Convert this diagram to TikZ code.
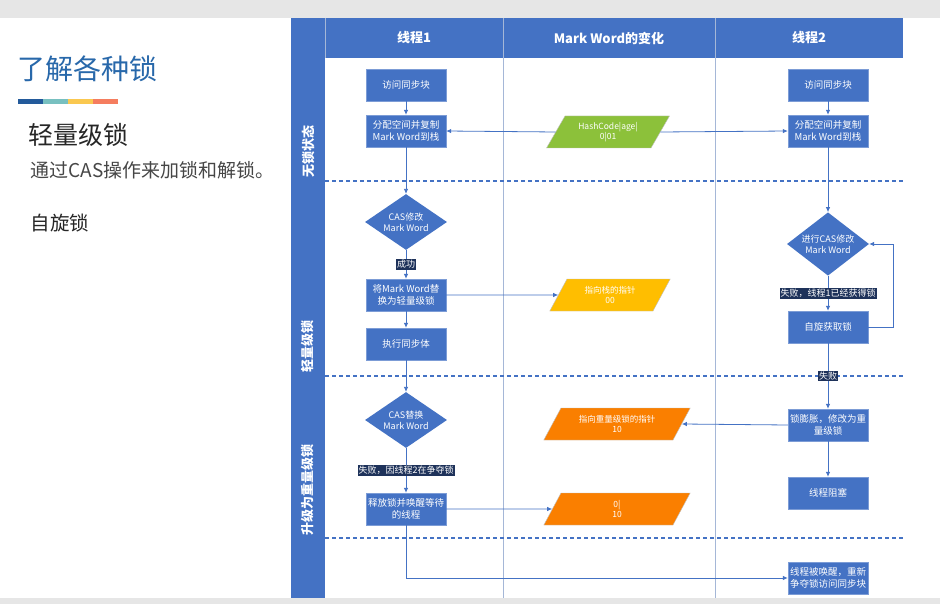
\documentclass[tikz,border=0pt]{standalone}
\usepackage{fontspec}
\setmainfont{Noto Sans CJK SC}
\usetikzlibrary{arrows.meta,positioning,shapes.geometric}
\definecolor{lockBlue}{RGB}{68,114,196}
\definecolor{lockNavy}{RGB}{30,50,90}
\definecolor{lockGrid}{RGB}{165,183,215}
\definecolor{lockGreen}{RGB}{140,193,58}
\definecolor{lockYellow}{RGB}{255,190,0}
\definecolor{lockOrange}{RGB}{250,127,0}
\definecolor{lockTitle}{RGB}{40,104,170}
\definecolor{lockText}{RGB}{70,70,70}
\definecolor{barBlue}{RGB}{35,90,155}
\definecolor{barTeal}{RGB}{120,192,192}
\definecolor{barGold}{RGB}{250,200,80}
\definecolor{barRed}{RGB}{245,125,95}
\definecolor{frameGray}{RGB}{230,230,230}

\begin{document}
\begin{tikzpicture}[x=1pt,y=-1pt,
  stepbox/.style={rectangle, fill=lockBlue, draw=lockBlue!70!white, text=white,
    minimum width=80pt, minimum height=32pt, inner sep=1pt, align=center,
    font=\fontsize{9.5}{11.5}\selectfont},
  choice/.style={diamond, fill=lockBlue, text=white, minimum width=82pt,
    minimum height=50pt, inner sep=-2pt, align=center,
    font=\fontsize{9}{11}\selectfont},
  word/.style={trapezium, trapezium left angle=60, trapezium right angle=120,
    trapezium stretches=true, text width=84pt, minimum height=32pt,
    draw=black!25, text=white, align=center, inner xsep=1pt, inner ysep=6pt,
    font=\fontsize{8.5}{10.5}\selectfont},
  wideword/.style={word, text width=110pt},
  tag/.style={fill=lockNavy, text=white, inner sep=1pt,
    font=\fontsize{9}{10}\selectfont},
  head/.style={text=white, font=\bfseries\fontsize{13}{15}\selectfont},
  lane/.style={text=white, rotate=90, font=\bfseries\fontsize{13}{15}\selectfont},
  flow/.style={-{Latex[length=5pt,width=4.5pt]}, lockBlue, line width=0.8pt},
  divider/.style={lockBlue, line width=1.5pt, dash pattern=on 4pt off 3pt}]
\useasboundingbox (0,0) rectangle (940,604);
\fill[white] (0,0) rectangle (940,604);
\fill[frameGray] (0,0) rectangle (940,18);
\fill[frameGray] (0,598) rectangle (940,604);

% left side of the slide
\node[anchor=west, text=lockTitle, font=\fontsize{28}{32}\selectfont] (title) at (14,69) {了解各种锁};
\fill[barBlue] (18,99) rectangle (43,104);
\fill[barTeal] (43,99) rectangle (68,104);
\fill[barGold] (68,99) rectangle (93,104);
\fill[barRed] (93,99) rectangle (118,104);
\node[anchor=west, text=black!85, font=\fontsize{25}{28}\selectfont] (light) at (25,135) {轻量级锁};
\node[anchor=west, text=lockText, font=\fontsize{19}{21}\selectfont] (cas) at (27,170) {通过CAS操作来加锁和解锁。};
\node[anchor=west, text=black!85, font=\fontsize{19.5}{22}\selectfont] (spin) at (27,223) {自旋锁};

% table frame
\fill[lockBlue] (291,18) rectangle (903,58);
\fill[lockBlue] (291,18) rectangle (325,598);
\draw[lockGrid] (325,18) -- (325,58);
\draw[lockGrid] (503,18) -- (503,598);
\draw[lockGrid] (715,18) -- (715,598);
\node[head] (h1) at (414,38) {线程1};
\node[head] (h2) at (609,38) {Mark Word的变化};
\node[head] (h3) at (809,38) {线程2};
\node[lane] (l1) at (308,152) {无锁状态};
\node[lane] (l2) at (308,346) {轻量级锁};
\node[lane] (l3) at (308,490) {升级为重量级锁};
\draw[divider] (325,181) -- (903,181);
\draw[divider] (325,376) -- (903,376);
\draw[divider] (325,538) -- (903,538);

% thread 1
\node[stepbox] (t1a) at (406,85) {访问同步块};
\node[stepbox] (t1b) at (406,131) {分配空间并复制\\Mark Word到栈};
\node[choice] (t1c) at (406,222) {CAS修改\\Mark Word};
\node[stepbox] (t1d) at (406,295) {将Mark Word替\\换为轻量级锁};
\node[stepbox] (t1e) at (406,344) {执行同步体};
\node[choice] (t1f) at (406,420) {CAS替换\\Mark Word};
\node[stepbox] (t1g) at (406,509) {释放锁并唤醒等待\\的线程};

% mark word
\node[word, fill=lockGreen] (mwa) at (608,132) {HashCode|age|\\0|01};
\node[word, fill=lockYellow] (mwb) at (610,295) {指向栈的指针\\00};
\node[wideword, fill=lockOrange] (mwc) at (617,424) {指向重量级锁的指针\\10};
\node[wideword, fill=lockOrange] (mwd) at (617,509) {0|\\10};

% thread 2
\node[stepbox] (t2a) at (828,85) {访问同步块};
\node[stepbox] (t2b) at (828,131) {分配空间并复制\\Mark Word到栈};
\node[choice] (t2c) at (828,244) {进行CAS修改\\Mark Word};
\node[stepbox] (t2d) at (828,327) {自旋获取锁};
\node[stepbox] (t2e) at (828,425) {锁膨胀，修改为重\\量级锁};
\node[stepbox] (t2f) at (828,493) {线程阻塞};
\node[stepbox] (t2g) at (828,578) {线程被唤醒，重新\\争夺锁访问同步块};

\draw[flow] (t1a) -- (t1b);
\draw[flow] (t1b) -- (t1c);
\draw[flow] (t1c) -- node[tag] {成功} (t1d);
\draw[flow] (t1d) -- (t1e);
\draw[flow] (t1e) -- (t1f);
\draw[flow] (t1f) -- node[tag] {失败，因线程2在争夺锁} (t1g);
\draw[flow] (t1g.south) |- (t2g.west);
\draw[flow] (mwa.west) -- (t1b.east);
\draw[flow] (mwa.east) -- (t2b.west);
\draw[flow] (t1d.east) -- (mwb.west);
\draw[flow] (t1g.east) -- (mwd.west);
\draw[flow] (t2e.west) -- (mwc.east);
\draw[flow] (t2a) -- (t2b);
\draw[flow] (t2b) -- (t2c);
\draw[flow] (t2c) -- node[tag] {失败，线程1已经获得锁} (t2d);
\draw[flow] (t2d.east) -- ++(25,0) |- (t2c.east);
\draw[flow] (t2d) -- node[tag] {失败} (t2e);
\draw[flow] (t2e) -- (t2f);
\end{tikzpicture}
\end{document}
